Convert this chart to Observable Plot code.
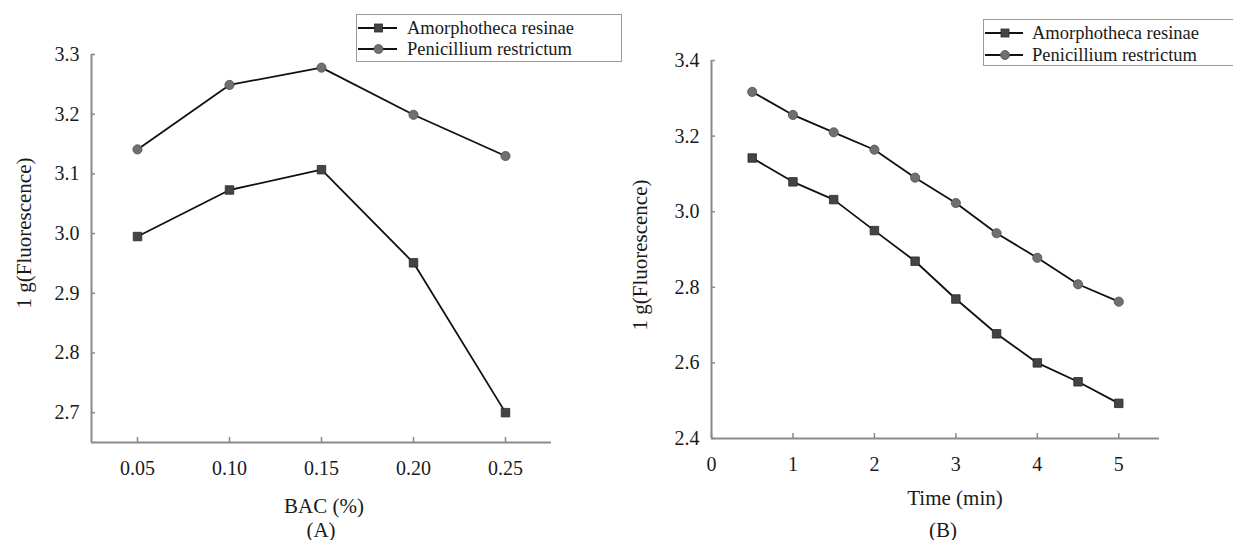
<!DOCTYPE html>
<html>
<head>
<meta charset="utf-8">
<script src="https://cdn.jsdelivr.net/npm/d3@7"></script>
<script src="https://cdn.jsdelivr.net/npm/@observablehq/plot@0.6"></script>
<style>
  body { margin: 0; background: #fff; }
  #page { position: relative; width: 1233px; height: 540px; overflow: hidden; background: #fff;
          font-family: "Liberation Serif", "DejaVu Serif", serif; color: #1a1a1a; }
  .panel { position: absolute; top: 0; }
  .panel text { font-family: "Liberation Serif", serif; }
  .t { position: absolute; white-space: nowrap; transform: translate(-50%, -50%); line-height: 1; }
  .ytitle { transform: translate(-50%, -50%) rotate(-90deg); }
  .legend { position: absolute; border: 1.5px solid #9a9a9a; box-sizing: border-box; background: #fff; }
  .lrow { position: absolute; left: 0; height: 22px; }
  .lrow svg { position: absolute; left: 0; top: 0; }
  .lrow span { position: absolute; font-size: 18.5px; line-height: 22px; top: 0; white-space: nowrap; }
</style>
</head>
<body>
<div id="page"></div>
<script>
// ---------- data ----------
const seriesNames = ["Amorphotheca resinae", "Penicillium restrictum"];

// Panel A: BAC concentration (%)
const bacLevels = [0.05, 0.10, 0.15, 0.20, 0.25];
const bacAmorphotheca = [2.995, 3.073, 3.107, 2.951, 2.700];
const bacPenicillium = [3.141, 3.249, 3.278, 3.199, 3.130];
const bacYTicks = [2.7, 2.8, 2.9, 3.0, 3.1, 3.2, 3.3];

// Panel B: time (min)
const timeLevels = [0.5, 1, 1.5, 2, 2.5, 3, 3.5, 4, 4.5, 5];
const timeAmorphotheca = [3.142, 3.079, 3.032, 2.950, 2.869, 2.769, 2.677, 2.600, 2.550, 2.493];
const timePenicillium = [3.317, 3.256, 3.210, 3.164, 3.090, 3.023, 2.943, 2.878, 2.808, 2.762];
const timeXTicks = [0, 1, 2, 3, 4, 5];
const timeYTicks = [2.4, 2.6, 2.8, 3.0, 3.2, 3.4];

// ---------- helpers ----------
const axisColor = "#8a8a8a";
const sqFill = "#444", sqStroke = "#2a2a2a";
const ciFill = "#707070", ciStroke = "#505050";
const serif = "Liberation Serif";

function toRows(xs, a, p) {
  const rows = [];
  xs.forEach((x, i) => {
    rows.push({x, y: a[i], s: seriesNames[0]});
    rows.push({x, y: p[i], s: seriesNames[1]});
  });
  return rows;
}

function makePanel({rows, xDomain, yDomain, xTicks, yTicks, xFmt, yFmt, width, margins}) {
  const amor = rows.filter(d => d.s === seriesNames[0]);
  const pen = rows.filter(d => d.s === seriesNames[1]);
  return Plot.plot({
    width, height: 540,
    marginLeft: margins[0], marginRight: margins[1], marginTop: margins[2], marginBottom: margins[3],
    x: {domain: xDomain},
    y: {domain: yDomain},
    style: {fontFamily: serif, fontSize: "20px", color: "#1a1a1a", background: "transparent", overflow: "visible"},
    marks: [
      Plot.ruleY([yDomain[0]], {stroke: axisColor, strokeWidth: 2}),
      Plot.ruleX([xDomain[0]], {stroke: axisColor, strokeWidth: 2}),
      Plot.axisX({ticks: xTicks, tickSize: 0, tickPadding: 18, tickFormat: xFmt, label: null, stroke: axisColor,
                  fontSize: 20, fontFamily: serif, fill: "#1a1a1a"}),
      Plot.axisX({ticks: xTicks, tickSize: -5, tickFormat: () => "", label: null, stroke: axisColor, strokeWidth: 1.5}),
      Plot.axisY({ticks: yTicks, tickSize: 0, tickPadding: 12, tickFormat: yFmt, label: null, stroke: axisColor,
                  fontSize: 20, fontFamily: serif, fill: "#1a1a1a"}),
      Plot.axisY({ticks: yTicks, tickSize: -4, tickFormat: () => "", label: null, stroke: axisColor, strokeWidth: 1.5}),
      Plot.line(amor, {x: "x", y: "y", stroke: "#111", strokeWidth: 1.8}),
      Plot.line(pen, {x: "x", y: "y", stroke: "#111", strokeWidth: 1.8}),
      Plot.dot(amor, {x: "x", y: "y", symbol: "square", r: 4.8, fill: sqFill, stroke: sqStroke, strokeWidth: 0.8}),
      Plot.dot(pen, {x: "x", y: "y", symbol: "circle", r: 4.6, fill: ciFill, stroke: ciStroke, strokeWidth: 0.8})
    ]
  });
}

const page = document.getElementById("page");

function addText(txt, x, y, size, cls) {
  const d = document.createElement("div");
  d.className = "t" + (cls ? " " + cls : "");
  d.style.left = x + "px"; d.style.top = y + "px"; d.style.fontSize = size + "px";
  d.textContent = txt;
  page.appendChild(d);
}

function addLegend(left, top, width, height, rowTops, lineW, textX) {
  const box = document.createElement("div");
  box.className = "legend";
  box.style.left = left + "px"; box.style.top = top + "px";
  box.style.width = width + "px"; box.style.height = height + "px";
  seriesNames.forEach((name, i) => {
    const row = document.createElement("div");
    row.className = "lrow";
    row.style.top = rowTops[i] + "px";
    row.style.width = (width - 4) + "px";
    const mid = lineW / 2 + 2;
    const sym = i === 0
      ? `<rect x="${mid - 4}" y="7" width="8" height="8" fill="${sqFill}" stroke="${sqStroke}" stroke-width="0.8"/>`
      : `<circle cx="${mid}" cy="11" r="4.5" fill="${ciFill}" stroke="${ciStroke}" stroke-width="0.8"/>`;
    row.innerHTML = `<svg width="${lineW + 6}" height="22"><line x1="1" x2="${lineW + 1}" y1="11" y2="11" stroke="#111" stroke-width="1.8"/>${sym}</svg><span style="left:${textX}px">${name}</span>`;
    box.appendChild(row);
  });
  page.appendChild(box);
}

// ---------- Panel A ----------
const plotA = makePanel({
  rows: toRows(bacLevels, bacAmorphotheca, bacPenicillium),
  xDomain: [0.025, 0.275], yDomain: [2.65, 3.3],
  xTicks: bacLevels, yTicks: bacYTicks,
  xFmt: d3.format(".2f"), yFmt: d3.format(".1f"),
  width: 616, margins: [91, 65, 54, 98]
});
plotA.classList.add("panel");
plotA.style.left = "0px";
page.appendChild(plotA);

// ---------- Panel B ----------
const plotB = makePanel({
  rows: toRows(timeLevels, timeAmorphotheca, timePenicillium),
  xDomain: [0, 5.5], yDomain: [2.4, 3.4],
  xTicks: timeXTicks, yTicks: timeYTicks,
  xFmt: d3.format("d"), yFmt: d3.format(".1f"),
  width: 617, margins: [95, 74, 60, 102]
});
plotB.classList.add("panel");
plotB.style.left = "616px";
page.appendChild(plotB);

// ---------- titles ----------
addText("1 g(Fluorescence)", 24, 233, 21, "ytitle");
addText("BAC (%)", 324, 506, 21);
addText("(A)", 321, 530, 21);

addText("1 g(Fluorescence)", 640, 255, 21, "ytitle");
addText("Time (min)", 955, 498, 21);
addText("(B)", 943, 530, 21);

// ---------- legends ----------
addLegend(356, 14, 266, 48, [2, 23], 39, 50);
addLegend(983, 19, 270, 47, [2, 24], 38, 48);
</script>
</body>
</html>
